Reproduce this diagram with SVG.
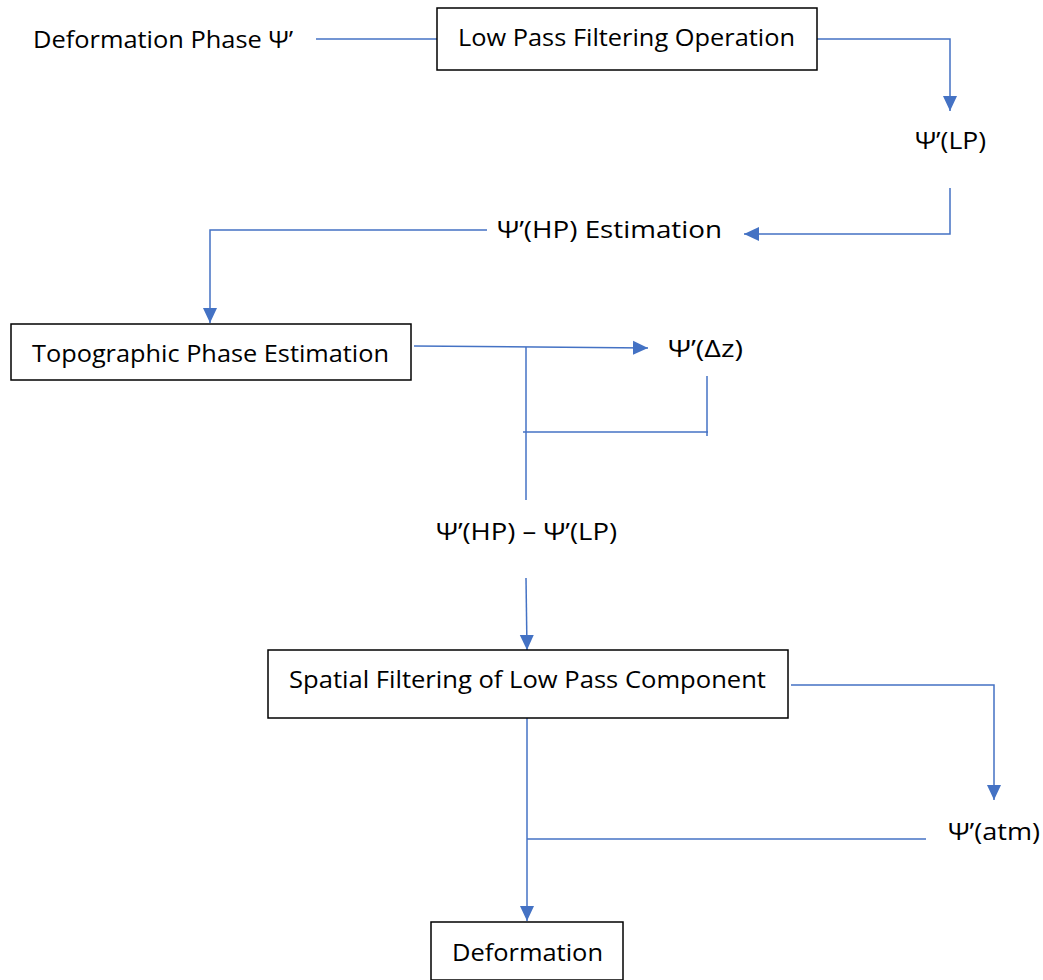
<svg xmlns="http://www.w3.org/2000/svg" width="1043" height="980" viewBox="0 0 1043 980">
<style>
.box{fill:#fff;stroke:#000;stroke-width:1.5}
.t{font-family:"Open Sans","Liberation Sans",sans-serif;font-size:24px;fill:#000}
.c{fill:none;stroke:#4472C4;stroke-width:1.5}
</style>
<defs>
<marker id="ah" markerUnits="userSpaceOnUse" markerWidth="16" markerHeight="16" viewBox="0 0 16 16" refX="15" refY="8" orient="auto">
<path d="M0,1 L15,8 L0,15 Z" fill="#4472C4"/>
</marker>
</defs>
<rect width="1043" height="980" fill="#fff"/>
<g id="connectors">
<path class="c" d="M316,39 H437"/>
<path class="c" d="M817,39 H950 V111" marker-end="url(#ah)"/>
<path class="c" d="M950,188 V234 H744" marker-end="url(#ah)"/>
<path class="c" d="M487,230 H210 V323" marker-end="url(#ah)"/>
<path class="c" d="M414,346 L648,348" marker-end="url(#ah)"/>
<path class="c" d="M707,376 V436"/>
<path class="c" d="M523,432 H708"/>
<path class="c" d="M526,347 V500"/>
<path class="c" d="M526,578 L527,650" marker-end="url(#ah)"/>
<path class="c" d="M791,685 H994 V800" marker-end="url(#ah)"/>
<path class="c" d="M926,839 H527"/>
<path class="c" d="M527,718 V921" marker-end="url(#ah)"/>
</g>
<g id="deformation-phase"><text class="t" x="33" y="48" textLength="260" lengthAdjust="spacingAndGlyphs">Deformation Phase Ψ’</text></g>
<g id="low-pass"><rect class="box" x="437" y="8" width="380" height="62"/><text class="t" x="458" y="46" textLength="337" lengthAdjust="spacingAndGlyphs">Low Pass Filtering Operation</text></g>
<g id="psi-lp"><text class="t" x="915" y="149" textLength="71" lengthAdjust="spacingAndGlyphs">Ψ’(LP)</text></g>
<g id="psi-hp-est"><text class="t" x="497" y="238" textLength="225" lengthAdjust="spacingAndGlyphs">Ψ’(HP) Estimation</text></g>
<g id="topo"><rect class="box" x="11" y="324" width="400" height="56"/><text class="t" x="32" y="362" textLength="357" lengthAdjust="spacingAndGlyphs">Topographic Phase Estimation</text></g>
<g id="psi-dz"><text class="t" x="668" y="357" textLength="75" lengthAdjust="spacingAndGlyphs">Ψ’(Δz)</text></g>
<g id="psi-diff"><text class="t" x="436" y="540" textLength="181" lengthAdjust="spacingAndGlyphs">Ψ’(HP) – Ψ’(LP)</text></g>
<g id="spatial"><rect class="box" x="268" y="650" width="520" height="68"/><text class="t" x="289" y="688" textLength="477" lengthAdjust="spacingAndGlyphs">Spatial Filtering of Low Pass Component</text></g>
<g id="psi-atm"><text class="t" x="948" y="840" textLength="92" lengthAdjust="spacingAndGlyphs">Ψ’(atm)</text></g>
<g id="deformation"><rect class="box" x="431" y="922" width="192" height="58"/><text class="t" x="452" y="961" textLength="151" lengthAdjust="spacingAndGlyphs">Deformation</text></g>
</svg>
